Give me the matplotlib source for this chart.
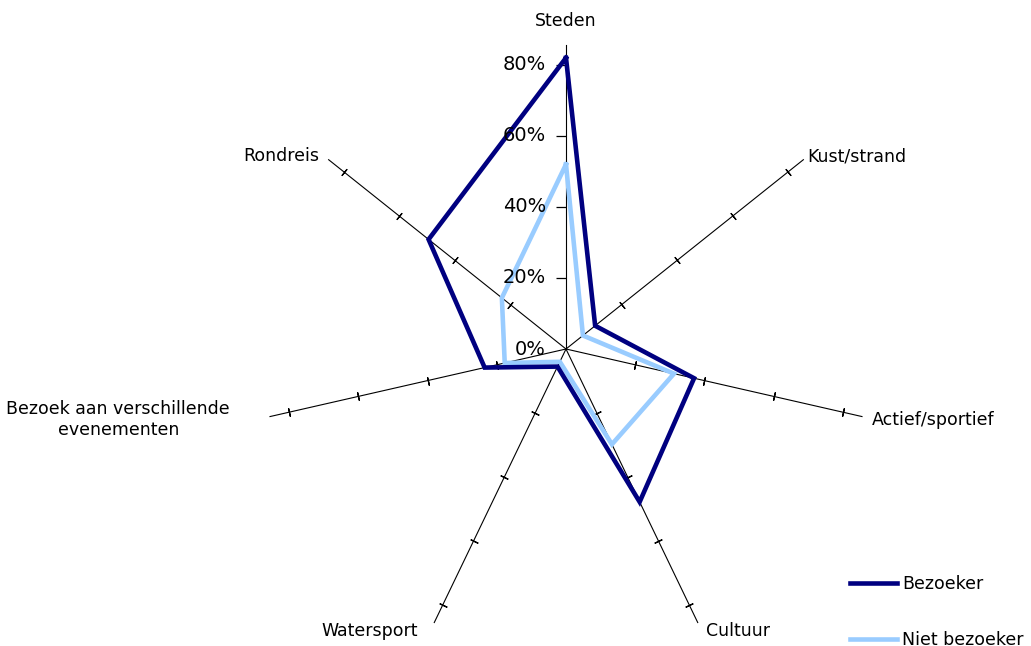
import numpy as np
import matplotlib
matplotlib.use("Agg")
import matplotlib.pyplot as plt

categories = ["Steden", "Kust/strand", "Actief/sportief", "Cultuur", "Watersport",
              "Bezoek aan verschillende\nevenementen", "Rondreis"]
bezoeker = [0.82, 0.105, 0.37, 0.478, 0.055, 0.235, 0.495]
niet_bezoeker = [0.52, 0.061, 0.312, 0.298, 0.04, 0.177, 0.231]
series_names = ["Bezoeker", "Niet bezoeker"]
tick_values = [0.0, 0.2, 0.4, 0.6, 0.8]
tick_labels = ["0%", "20%", "40%", "60%", "80%"]

W, H = 1031, 646
fig = plt.figure(figsize=(W / 100, H / 100), dpi=100)
cx, cy, R = 566, 349, 303.6
rmax = 0.855
ax = fig.add_axes([(cx - R) / W, (H - cy - R) / H, 2 * R / W, 2 * R / H], projection="polar")
ax.set_theta_zero_location("N")
ax.set_theta_direction(-1)
ax.set_ylim(0, rmax)
ax.axis("off")

n = len(categories)
angles = np.arange(n) * 2 * np.pi / n

# spokes and tick marks
for i, th in enumerate(angles):
    ax.plot([th, th], [0, rmax], color="black", lw=0.8, clip_on=False, zorder=1)
    deg = np.degrees(th)
    if i == 0:
        ax.plot([th] * 4, tick_values[1:], ls="none", marker=0, ms=7,
                mew=0.9, color="black", clip_on=False, zorder=1)
    else:
        ax.plot([th] * 4, tick_values[1:], ls="none", marker=(2, 2, 90 - deg), ms=6,
                mew=0.9, color="black", clip_on=False, zorder=1)

# series
th_closed = np.append(angles, angles[0])
ax.plot(th_closed, np.append(bezoeker, bezoeker[0]), color="#000080", lw=3.3,
        label=series_names[0], clip_on=False, zorder=3, solid_joinstyle="miter")
ax.plot(th_closed, np.append(niet_bezoeker, niet_bezoeker[0]), color="#99CCFF", lw=3.3,
        label=series_names[1], clip_on=False, zorder=2, solid_joinstyle="miter")

# radial tick labels
for v, lab in zip(tick_values, tick_labels):
    ax.annotate(lab, xy=(0, v), xytext=(-20, 0), textcoords="offset pixels",
                ha="right", va="center", fontsize=14, color="black", annotation_clip=False)

# category labels
label_offsets = [(0, 24, "center"), (4, 3, "left"), (10, -3, "left"), (8, -8, "left"),
                 (-16, -8, "right"), (-40, -3, "right"), (-9, 4, "right")]
for th, lab, (dx, dy, ha) in zip(angles, categories, label_offsets):
    ax.annotate(lab, xy=(th, rmax), xytext=(dx, dy), textcoords="offset pixels",
                ha=ha, va="center", fontsize=12.5, multialignment="center",
                annotation_clip=False)

handles, labels = ax.get_legend_handles_labels()
fig.legend(handles, labels, loc="upper left", bbox_to_anchor=(850 / W, 1 - 575 / H),
           frameon=False, fontsize=12.5, handlelength=2.7, handletextpad=0.3,
           labelspacing=2.2, borderpad=0, borderaxespad=0)

fig.savefig("out.png", dpi=100)
